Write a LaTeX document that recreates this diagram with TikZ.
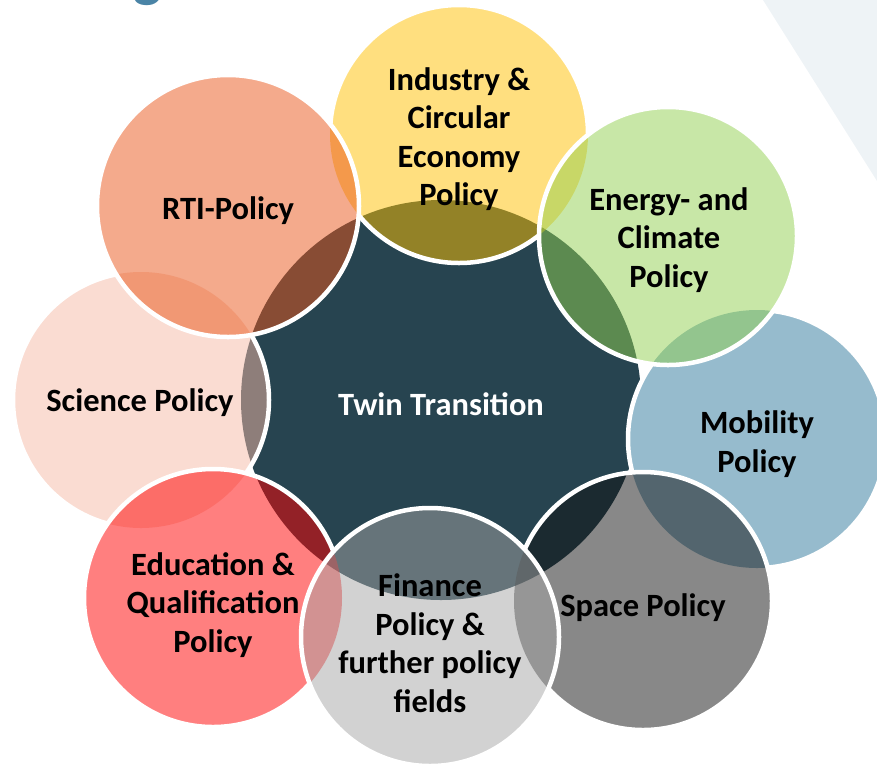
\documentclass[tikz,border=0pt]{standalone}
\usepackage{fontspec}
\setmainfont{Carlito}
\definecolor{cctr}{RGB}{39,68,80}
\definecolor{csci}{RGB}{245,185,165}
\definecolor{cind}{RGB}{255,192,0}
\definecolor{cmob}{RGB}{150,187,205}
\definecolor{crti}{RGB}{233,85,25}
\definecolor{cene}{RGB}{146,208,80}
\definecolor{cspa}{RGB}{17,17,17}
\definecolor{cedu}{RGB}{255,0,0}
\definecolor{cfin}{RGB}{165,165,165}
\definecolor{cbg}{RGB}{238,243,246}
\definecolor{ctitle}{RGB}{74,132,166}
\tikzset{
  disc/.style={fill=#1, fill opacity=0.5},
  rim/.style={draw=white, line width=4.5pt},
  lbl/.style={align=center, text=black, font=\fontsize{32.5}{38.5}\selectfont\bfseries, inner sep=0pt},
}
\newcommand\cutout[3]{\clip (-50,-50) rectangle (950,850) (#1,#2) circle (#3);}
\begin{document}
\begin{tikzpicture}[x=1pt,y=-1pt]
\useasboundingbox (0,0) rectangle (877,764);
\clip (0,0) rectangle (877,764);
% background decoration
\fill[cbg] (763,0) -- (877,0) -- (877,181) -- cycle;
\node[anchor=base, text=ctitle, font=\fontsize{60}{60}\selectfont\bfseries, inner sep=0pt] (title) at (148,-5) {g};
% fills
\fill[cctr] (441,400) circle (200);
\fill[disc=csci] (141,400) circle (128);
\fill[disc=cind] (459,134) circle (129);
\fill[cmob] (757,439) circle (129);
\fill[disc=crti] (228,206) circle (131);
\fill[disc=cene] (668,236) circle (129);
\fill[disc=cspa] (643,601) circle (129);
\fill[disc=cedu] (213,598) circle (129);
\fill[disc=cfin] (430,637) circle (129);
% white rims, hidden below later circles
\begin{scope}[even odd rule]
\cutout{459}{134}{129}\cutout{757}{439}{129}\cutout{228}{206}{131}\cutout{668}{236}{129}
\cutout{643}{601}{129}\cutout{213}{598}{129}\cutout{430}{637}{129}
\draw[rim] (141,400) circle (128);
\end{scope}
\begin{scope}[even odd rule]
\cutout{757}{439}{129}\cutout{228}{206}{131}\cutout{668}{236}{129}
\cutout{643}{601}{129}\cutout{213}{598}{129}\cutout{430}{637}{129}
\draw[rim] (459,134) circle (129);
\end{scope}
\begin{scope}[even odd rule]
\cutout{228}{206}{131}\cutout{668}{236}{129}
\cutout{643}{601}{129}\cutout{213}{598}{129}\cutout{430}{637}{129}
\draw[rim] (757,439) circle (129);
\end{scope}
\begin{scope}[even odd rule]
\cutout{668}{236}{129}
\cutout{643}{601}{129}\cutout{213}{598}{129}\cutout{430}{637}{129}
\draw[rim] (228,206) circle (131);
\end{scope}
\begin{scope}[even odd rule]
\cutout{643}{601}{129}\cutout{213}{598}{129}\cutout{430}{637}{129}
\draw[rim] (668,236) circle (129);
\end{scope}
\begin{scope}[even odd rule]
\cutout{213}{598}{129}\cutout{430}{637}{129}
\draw[rim] (643,601) circle (129);
\end{scope}
\begin{scope}[even odd rule]
\cutout{430}{637}{129}
\draw[rim] (213,598) circle (129);
\end{scope}
\draw[rim] (430,637) circle (129);
% labels
\node[lbl] (lind) at (459,139) {Industry \&\\Circular\\Economy\\Policy};
\node[lbl] (lrti) at (228,211) {RTI-Policy};
\node[lbl] (lene) at (669,240) {Energy- and\\Climate\\Policy};
\node[lbl] (lsci) at (140,403) {Science Policy};
\node[lbl, text=white] (lctr) at (441,404) {Twin Transition};
\node[lbl] (lmob) at (757,444) {Mobility\\Policy};
\node[lbl] (ledu) at (213,605) {Education \&\\Qualification\\Policy};
\node[lbl] (lfin) at (430,643) {Finance\\Policy \&\\further policy\\fields};
\node[lbl] (lspa) at (643,608) {Space Policy};
\end{tikzpicture}
\end{document}
